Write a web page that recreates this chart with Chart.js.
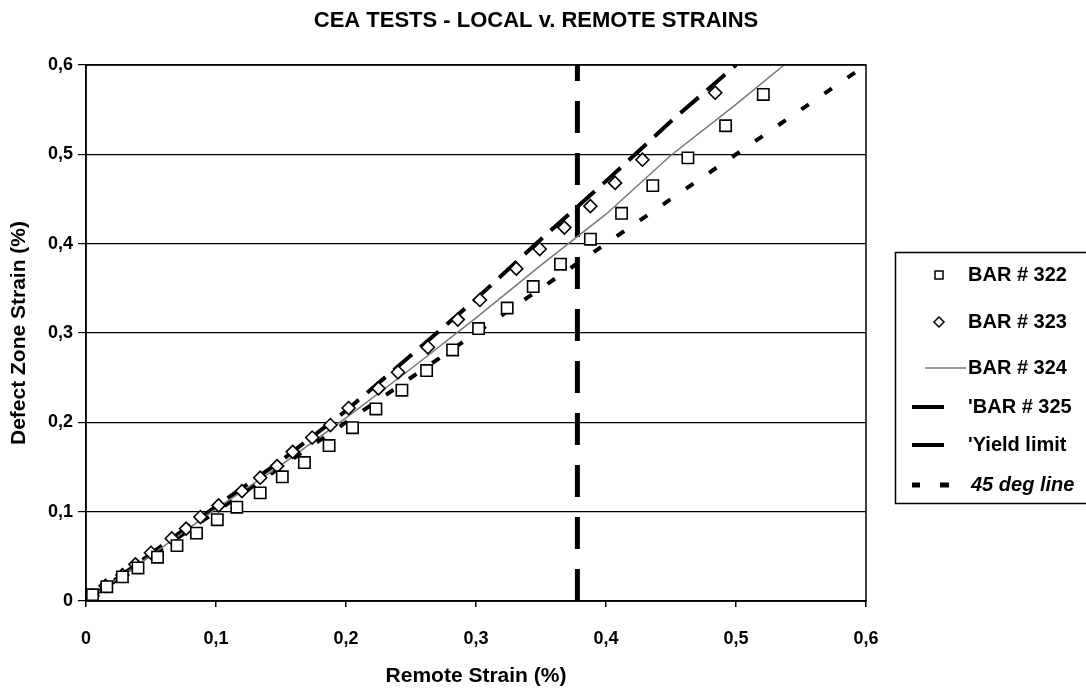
<!DOCTYPE html>
<html>
<head>
<meta charset="utf-8">
<script src="https://cdn.jsdelivr.net/npm/chart.js@4"></script>
<style>
  html, body { margin: 0; padding: 0; background: #fff; }
  #wrap { width: 1086px; height: 692px; }
</style>
</head>
<body>
<div id="wrap"><canvas id="chart" width="1086" height="692"></canvas></div>
<script>
// BAR # 322 (squares)
const bar322X = [0, 0.005, 0.016, 0.028, 0.040, 0.055, 0.070, 0.085, 0.101, 0.116, 0.134, 0.151, 0.168, 0.187, 0.205, 0.223, 0.243, 0.262, 0.282, 0.302, 0.324, 0.344, 0.365, 0.388, 0.412, 0.436, 0.463, 0.492, 0.521];
const bar322Y = [0, 0.007, 0.016, 0.027, 0.037, 0.049, 0.062, 0.076, 0.091, 0.105, 0.121, 0.139, 0.155, 0.174, 0.194, 0.215, 0.236, 0.258, 0.281, 0.305, 0.328, 0.352, 0.377, 0.405, 0.434, 0.465, 0.496, 0.532, 0.567];

// BAR # 323 (diamonds)
const bar323X = [0, 0.005, 0.015, 0.028, 0.038, 0.050, 0.066, 0.077, 0.088, 0.102, 0.120, 0.134, 0.147, 0.159, 0.174, 0.188, 0.202, 0.225, 0.240, 0.263, 0.286, 0.303, 0.331, 0.349, 0.368, 0.388, 0.407, 0.428, 0.484];
const bar323Y = [0, 0.006, 0.017, 0.029, 0.041, 0.054, 0.070, 0.081, 0.094, 0.107, 0.123, 0.138, 0.151, 0.167, 0.183, 0.197, 0.216, 0.238, 0.256, 0.284, 0.315, 0.337, 0.372, 0.394, 0.418, 0.442, 0.468, 0.494, 0.569];

// BAR # 324 (thin grey line)
const bar324X = [0, 0.05, 0.10, 0.15, 0.20, 0.25, 0.30, 0.35, 0.40, 0.45, 0.50, 0.537];
const bar324Y = [0, 0.051, 0.103, 0.152, 0.205, 0.260, 0.317, 0.376, 0.433, 0.499, 0.556, 0.60];

// BAR # 325 (thick dashed line)
const bar325X = [0, 0.05, 0.10, 0.15, 0.20, 0.25, 0.30, 0.35, 0.40, 0.45, 0.50];
const bar325Y = [0, 0.053, 0.106, 0.157, 0.213, 0.275, 0.338, 0.405, 0.470, 0.537, 0.60];

// Yield limit and 45 deg line
const yieldX = [0.378, 0.378];
const yieldY = [0, 0.6];
const degX = [0, 0.6];
const degY = [0, 0.6];

const legendLabels = ['BAR # 322', 'BAR # 323', 'BAR # 324', "'BAR # 325", "'Yield limit", '45 deg line'];
const xTicks = [0, 0.1, 0.2, 0.3, 0.4, 0.5, 0.6];

const FONT = '"Liberation Sans", Arial, sans-serif';

function pts(xs, ys) {
  return xs.map((x, i) => ({ x: x, y: ys[i] }));
}

function fmt(v) {
  if (Math.abs(v) < 1e-9) return '0';
  return v.toFixed(1).replace('.', ',');
}

// title, frame and legend drawn by hand
const extras = {
  id: 'extras',
  afterDraw(chart) {
    const ctx = chart.ctx;
    const a = chart.chartArea;
    ctx.save();
    // plot frame
    ctx.strokeStyle = '#000';
    ctx.lineWidth = 1.5;
    ctx.strokeRect(a.left, a.top, a.right - a.left, a.bottom - a.top);

    // title
    ctx.fillStyle = '#000';
    ctx.font = 'bold 22px ' + FONT;
    ctx.textAlign = 'center';
    ctx.textBaseline = 'middle';
    ctx.fillText('CEA TESTS - LOCAL v. REMOTE STRAINS', 536, 21);

    // legend box
    ctx.lineWidth = 1.5;
    ctx.strokeRect(895.5, 252.5, 200, 251);
    const rows = [275, 322, 368, 407, 445, 485];
    ctx.textAlign = 'left';
    legendLabels.forEach((lab, i) => {
      const y = rows[i];
      ctx.font = (i === 5 ? 'italic bold 20px ' : 'bold 20px ') + FONT;
      ctx.fillStyle = '#000';
      ctx.fillText(lab, i === 5 ? 971 : 968, y);
    });
    // legend samples
    ctx.strokeStyle = '#000';
    ctx.fillStyle = '#fff';
    ctx.lineWidth = 1.5;
    ctx.beginPath(); ctx.rect(935, rows[0] - 4, 8, 8); ctx.fill(); ctx.stroke();
    ctx.beginPath();
    ctx.moveTo(939, rows[1] - 5); ctx.lineTo(944, rows[1]); ctx.lineTo(939, rows[1] + 5); ctx.lineTo(934, rows[1]); ctx.closePath();
    ctx.fill(); ctx.stroke();
    ctx.strokeStyle = '#777';
    ctx.lineWidth = 1.5;
    ctx.beginPath(); ctx.moveTo(925, rows[2]); ctx.lineTo(966, rows[2]); ctx.stroke();
    ctx.strokeStyle = '#000';
    ctx.lineWidth = 4;
    ctx.beginPath(); ctx.moveTo(912, rows[3]); ctx.lineTo(944, rows[3]); ctx.stroke();
    ctx.beginPath(); ctx.moveTo(912, rows[4]); ctx.lineTo(944, rows[4]); ctx.stroke();
    ctx.lineWidth = 5;
    ctx.beginPath(); ctx.moveTo(912, rows[5]); ctx.lineTo(920, rows[5]); ctx.stroke();
    ctx.beginPath(); ctx.moveTo(940, rows[5]); ctx.lineTo(949, rows[5]); ctx.stroke();
    ctx.restore();
  }
};

const ctx = document.getElementById('chart').getContext('2d');
new Chart(ctx, {
  type: 'scatter',
  data: {
    datasets: [
      {
        label: 'BAR # 322',
        data: pts(bar322X, bar322Y),
        pointStyle: 'rect',
        pointRadius: 8,
        pointBorderWidth: 1.6,
        pointBorderColor: '#000',
        pointBackgroundColor: '#fff',
        showLine: false
      },
      {
        label: 'BAR # 323',
        data: pts(bar323X, bar323Y),
        pointStyle: 'rectRot',
        pointRadius: 6.5,
        pointBorderWidth: 1.6,
        pointBorderColor: '#000',
        pointBackgroundColor: '#fff',
        showLine: false
      },
      {
        label: 'BAR # 324',
        data: pts(bar324X, bar324Y),
        showLine: true,
        borderColor: '#777',
        borderWidth: 1.5,
        pointRadius: 0,
        tension: 0
      },
      {
        label: 'BAR # 325',
        data: pts(bar325X, bar325Y),
        showLine: true,
        borderColor: '#000',
        borderWidth: 4,
        borderDash: [24, 11],
        pointRadius: 0,
        tension: 0
      },
      {
        label: 'Yield limit',
        data: pts(yieldX, yieldY),
        showLine: true,
        borderColor: '#000',
        borderWidth: 5,
        borderDash: [32, 20],
        pointRadius: 0
      },
      {
        label: '45 deg line',
        data: pts(degX, degY),
        showLine: true,
        borderColor: '#000',
        borderWidth: 4,
        borderDash: [9, 19],
        pointRadius: 0
      }
    ]
  },
  options: {
    responsive: false,
    animation: false,
    layout: { padding: { left: 0, top: 65, right: 220, bottom: 0 } },
    plugins: {
      legend: { display: false },
      title: { display: false },
      tooltip: { enabled: false }
    },
    scales: {
      x: {
        type: 'linear',
        min: 0,
        max: 0.6,
        afterFit: s => { s.height = 91; },
        afterBuildTicks: s => { s.ticks = xTicks.map(v => ({ value: v })); },
        grid: { drawOnChartArea: false, color: '#000', tickLength: 6, lineWidth: 1.5 },
        border: { color: '#000', width: 1.5 },
        ticks: {
          color: '#000',
          font: { family: FONT, size: 18, weight: 'bold' },
          padding: 21,
          maxRotation: 0,
          callback: v => fmt(v)
        },
        title: {
          display: true,
          text: 'Remote Strain (%)',
          color: '#000',
          font: { family: FONT, size: 21, weight: 'bold' },
          padding: { top: 0, bottom: 3 }
        }
      },
      y: {
        type: 'linear',
        min: 0,
        max: 0.6,
        afterFit: s => { s.width = 86; },
        grid: { color: '#000', tickLength: 8, lineWidth: 1.2 },
        border: { color: '#000', width: 1.5 },
        ticks: {
          stepSize: 0.1,
          color: '#000',
          font: { family: FONT, size: 18, weight: 'bold' },
          padding: 5,
          callback: v => fmt(v)
        },
        title: {
          display: true,
          text: 'Defect Zone Strain (%)',
          color: '#000',
          font: { family: FONT, size: 21, weight: 'bold' },
          padding: { top: 7, bottom: 0 }
        }
      }
    }
  },
  plugins: [extras]
});
</script>
</body>
</html>
